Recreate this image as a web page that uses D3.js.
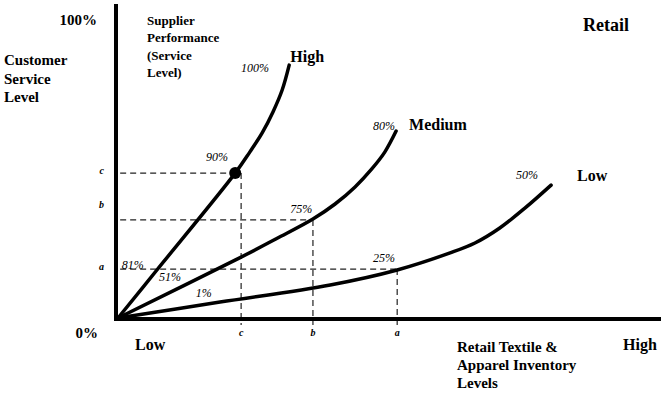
<!DOCTYPE html>
<html>
<head>
<meta charset="utf-8">
<script src="https://cdn.jsdelivr.net/npm/d3@7"></script>
<style>
  body { margin: 0; background: #fff; }
  text { font-family: "Liberation Serif", "DejaVu Serif", serif; fill: #000; }
  .big { font-weight: bold; font-size: 15px; }
  .pct { font-style: italic; font-size: 12px; }
  .tick { font-style: italic; font-weight: bold; font-size: 10px; }
</style>
</head>
<body>
<svg id="chart" width="662" height="402"></svg>
<script>
// curves : x = inventory level (0-100), y = customer service level (0-100)
var highX = [0, 7.2, 21.7, 24.4, 26.7, 28.7, 30.4, 31.7];
var highY = [0, 16, 48.3, 55.3, 61.7, 68.7, 76, 84.3];
var medX = [0, 22.8, 29.4, 36.1, 40.2, 43.9, 47, 49.4, 51.5];
var medY = [0, 20.3, 26.5, 33, 38, 43.7, 49.7, 55.3, 62.3];
var lowX = [0, 18.9, 39.3, 51.7, 61.5, 66.1, 70.7, 75.4, 80.2];
var lowY = [0, 5.3, 11, 16, 21.7, 25, 30, 36.7, 44.3];

// reference levels a, b, c
var levelNames = ["a", "b", "c"];
var levelX = [51.7, 36.1, 22.8];
var levelY = [16.3, 32.7, 48.3];
var levelEndX = [51.7, 36.1, 21.7]; // where the horizontal dash stops
var levelLabelY = [17, 37.7, 48.9];

var dot = [21.7, 48.3];

// percent labels on the curves
var pctText = ["100%", "90%", "80%", "75%", "50%", "25%", "81%", "51%", "1%"];
var pctX = [22.8, 16.3, 47.2, 31.9, 73.7, 47.2, 0.7, 7.6, 14.4];
var pctY = [82, 52.3, 62.7, 35, 46.3, 18.7, 16.3, 12.3, 7];

var seriesNames = ["High", "Medium", "Low"];
var seriesNameX = [31.9, 53.9, 85];
var seriesNameY = [85.3, 62.7, 45.7];

var svg = d3.select("#chart");

var x = d3.scaleLinear().domain([0, 100]).range([118, 658]);
var y = d3.scaleLinear().domain([0, 100]).range([318, 18]);

var line = d3.line()
  .x(function(d) { return x(d[0]); })
  .y(function(d) { return y(d[1]); })
  .curve(d3.curveCatmullRom.alpha(0.5));

// dashed guides
for (var i = 0; i < levelNames.length; i++) {
  svg.append("line")
    .attr("x1", x(0.4)).attr("x2", x(levelEndX[i]))
    .attr("y1", y(levelY[i])).attr("y2", y(levelY[i]))
    .attr("stroke", "#222").attr("stroke-width", 1.2)
    .attr("stroke-dasharray", "6,4");
  svg.append("line")
    .attr("x1", x(levelX[i])).attr("x2", x(levelX[i]))
    .attr("y1", y(levelY[i])).attr("y2", y(-2.3))
    .attr("stroke", "#222").attr("stroke-width", 1.2)
    .attr("stroke-dasharray", "6,4");
  svg.append("text").attr("class", "tick")
    .attr("x", x(levelX[i])).attr("y", y(-6))
    .attr("text-anchor", "middle")
    .text(levelNames[i]);
  svg.append("text").attr("class", "tick")
    .attr("x", 104).attr("y", y(levelLabelY[i]) + 3)
    .attr("text-anchor", "end")
    .text(levelNames[i]);
}

// the three curves
var curves = [[highX, highY], [medX, medY], [lowX, lowY]];
curves.forEach(function(c) {
  var pts = c[0].map(function(v, j) { return [v, c[1][j]]; });
  svg.append("path")
    .attr("d", line(pts))
    .attr("fill", "none")
    .attr("stroke", "#000")
    .attr("stroke-width", 3.5)
    .attr("stroke-linecap", "round");
});

// axes
svg.append("line")
  .attr("x1", x(0) - 2).attr("x2", x(0) - 2)
  .attr("y1", 4).attr("y2", y(0) + 3)
  .attr("stroke", "#000").attr("stroke-width", 4);
svg.append("line")
  .attr("x1", x(0) - 4).attr("x2", 661)
  .attr("y1", y(0) + 1).attr("y2", y(0) + 1)
  .attr("stroke", "#000").attr("stroke-width", 4);

svg.append("circle")
  .attr("cx", x(dot[0])).attr("cy", y(dot[1]))
  .attr("r", 6).attr("fill", "#000");

for (var i = 0; i < pctText.length; i++) {
  svg.append("text").attr("class", "pct")
    .attr("x", x(pctX[i])).attr("y", y(pctY[i]))
    .text(pctText[i]);
}

for (var i = 0; i < seriesNames.length; i++) {
  svg.append("text").attr("class", "big")
    .style("font-size", "16px")
    .attr("x", x(seriesNameX[i])).attr("y", y(seriesNameY[i]))
    .text(seriesNames[i]);
}

// titles and axis words
function label(txt, px, py, size, anchor) {
  svg.append("text").attr("class", "big")
    .style("font-size", size + "px")
    .attr("x", px).attr("y", py)
    .attr("text-anchor", anchor || "start")
    .text(txt);
}
label("100%", 97, 25, 15, "end");
label("0%", 98, 338, 15, "end");
label("Customer", 4, 65, 15);
label("Service", 4, 84, 15);
label("Level", 4, 102, 15);
label("Supplier", 147, 25, 13);
label("Performance", 147, 42, 13);
label("(Service", 147, 60, 13);
label("Level)", 147, 77, 13);
label("Retail", 583, 31, 18);
label("Low", 135, 350, 16);
label("High", 623, 350, 16);
label("Retail Textile &", 457, 352, 15);
label("Apparel Inventory", 457, 370, 15);
label("Levels", 457, 388, 15);
</script>
</body>
</html>
